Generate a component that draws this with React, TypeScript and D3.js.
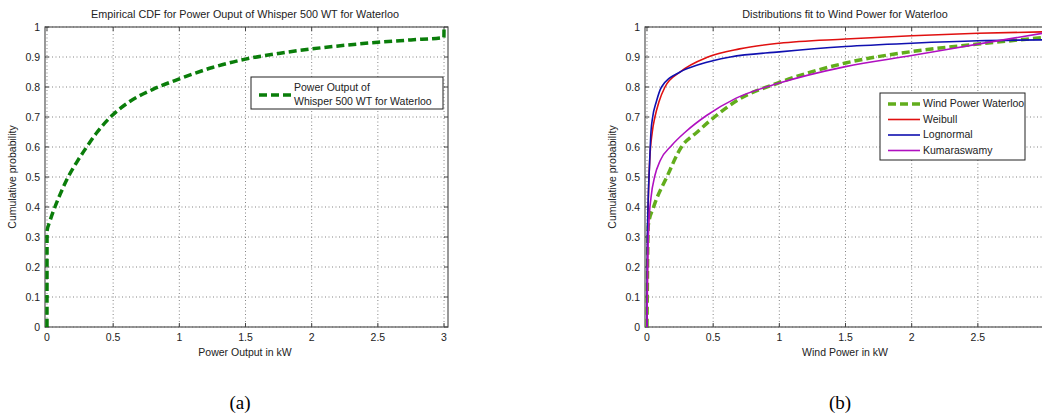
import * as d3 from "d3";
import React from "react";

// empirical cdf, panel (a)
const ecdfA: [number, number][] = [
  [0, 0], [0.0005, 0.32], [0.02, 0.35], [0.06, 0.4], [0.1, 0.443], [0.16, 0.5], [0.23, 0.553],
  [0.3, 0.6], [0.38, 0.65], [0.48, 0.7], [0.62, 0.75], [0.8, 0.792], [1.0, 0.827],
  [1.25, 0.865], [1.5, 0.893], [1.75, 0.912], [2.0, 0.927], [2.25, 0.939], [2.5, 0.949],
  [2.75, 0.957], [2.999, 0.965], [3.0, 1.0],
];

// panel (b)
const ecdfB: [number, number][] = [
  [0, 0], [0.01, 0.34], [0.05, 0.4], [0.15, 0.5], [0.26, 0.6], [0.38, 0.65], [0.51, 0.7],
  [0.68, 0.755], [1.0, 0.815], [1.5, 0.88], [2.0, 0.918], [2.5, 0.943], [3.0, 0.965],
];
const weibull: [number, number][] = [
  [0, 0], [0.005, 0.3], [0.02, 0.55], [0.04, 0.65], [0.06, 0.7], [0.09, 0.75], [0.136, 0.8],
  [0.25, 0.85], [0.46, 0.9], [0.7, 0.927], [1.0, 0.946], [1.5, 0.96], [2.0, 0.971],
  [2.5, 0.979], [3.0, 0.984],
];
const lognormal: [number, number][] = [
  [0, 0], [0.003, 0.3], [0.02, 0.55], [0.03, 0.65], [0.043, 0.7], [0.07, 0.75], [0.11, 0.8],
  [0.25, 0.85], [0.4, 0.876], [0.63, 0.9], [1.0, 0.917], [1.5, 0.935], [2.0, 0.946],
  [2.5, 0.954], [3.0, 0.957],
];
const kumaraswamy: [number, number][] = [
  [0, 0], [0.005, 0.2], [0.015, 0.35], [0.03, 0.43], [0.06, 0.505], [0.1, 0.555], [0.186, 0.605],
  [0.29, 0.65], [0.45, 0.705], [0.67, 0.762], [1.0, 0.813], [1.5, 0.868], [2.0, 0.905],
  [2.5, 0.943], [3.0, 0.98],
];

const xTicks = [0, 0.5, 1, 1.5, 2, 2.5, 3];
const yTicks = [0, 0.1, 0.2, 0.3, 0.4, 0.5, 0.6, 0.7, 0.8, 0.9, 1];

const font = "'Liberation Sans', Arial, sans-serif";

type Series = { name: string[]; data: [number, number][]; color: string; width: number; dash?: string };

function Panel({ dx, title, xLabel, caption, series, legend }: {
  dx: number; title: string; xLabel: string; caption: string; series: Series[];
  legend: { x: number; y: number; w: number; h: number; rowH: number };
}) {
  const x = d3.scaleLinear().domain([-0.015, 3.03]).range([45, 448]);
  const y = d3.scaleLinear().domain([0, 1]).range([327, 27]);
  const line = d3.line<[number, number]>()
    .x(d => x(d[0])).y(d => y(d[1]))
    .curve(d3.curveMonotoneX);
  const clipId = "clip" + dx;
  let row = 0;

  return (
    <g transform={`translate(${dx},0)`} fontFamily={font}>
      <defs>
        <clipPath id={clipId}><rect x={45} y={25} width={405} height={303} /></clipPath>
      </defs>
      <text x={245} y={18} textAnchor="middle" fontSize={10.8} fill="#222">{title}</text>
      {/* grid */}
      {xTicks.map(t => (
        <line key={"gx" + t} x1={x(t)} x2={x(t)} y1={27} y2={327} stroke="#666" strokeWidth={0.8} strokeDasharray="1,2.5" />
      ))}
      {yTicks.map(t => (
        <line key={"gy" + t} x1={45} x2={448} y1={y(t)} y2={y(t)} stroke="#666" strokeWidth={0.8} strokeDasharray="1,2.5" />
      ))}
      <rect x={45} y={27} width={403} height={300} fill="none" stroke="#555" strokeWidth={1.2} />
      {/* ticks */}
      {xTicks.map(t => (
        <g key={"tx" + t}>
          <line x1={x(t)} x2={x(t)} y1={327} y2={323} stroke="#444" />
          <line x1={x(t)} x2={x(t)} y1={27} y2={31} stroke="#444" />
          {dx + x(t) < 1036 && (
            <text x={x(t)} y={341} textAnchor="middle" fontSize={10.5} fill="#222">{t}</text>
          )}
        </g>
      ))}
      {yTicks.map(t => (
        <g key={"ty" + t}>
          <line x1={45} x2={49} y1={y(t)} y2={y(t)} stroke="#444" />
          <line x1={448} x2={444} y1={y(t)} y2={y(t)} stroke="#444" />
          <text x={40} y={y(t) + 3.5} textAnchor="end" fontSize={10.5} fill="#222">{t}</text>
        </g>
      ))}
      <text x={245} y={356} textAnchor="middle" fontSize={10.5} fill="#222">{xLabel}</text>
      <text transform="translate(16,177) rotate(-90)" textAnchor="middle" fontSize={10.5} fill="#222">Cumulative probability</text>
      <g clipPath={`url(#${clipId})`}>
        {series.map((s, i) => (
          <path key={i} d={line(s.data) || ""} fill="none" stroke={s.color} strokeWidth={s.width}
            strokeDasharray={s.dash} />
        ))}
      </g>
      {/* legend */}
      <rect x={legend.x} y={legend.y} width={legend.w} height={legend.h} fill="#fff" stroke="#222" strokeWidth={1} />
      {series.map((s, i) => {
        const cy = legend.y + 10 + row * legend.rowH + (s.name.length - 1) * legend.rowH / 2 + 1;
        const el = (
          <g key={"lg" + i}>
            <line x1={legend.x + 8} x2={legend.x + 40} y1={cy} y2={cy} stroke={s.color} strokeWidth={s.width} strokeDasharray={s.dash} />
            {s.name.map((n, j) => (
              <text key={j} x={legend.x + 43} y={legend.y + 14 + (row + j) * legend.rowH} fontSize={10.5} fill="#222">{n}</text>
            ))}
          </g>
        );
        row += s.name.length;
        return el;
      })}
      <text x={240} y={409} textAnchor="middle" fontSize={19} fontFamily="'Liberation Serif', 'Times New Roman', serif" fill="#000">{caption}</text>
    </g>
  );
}

export default function App() {
  const seriesA: Series[] = [
    { name: ["Power Output of", "Whisper 500 WT for Waterloo"], data: ecdfA, color: "#0a7d0a", width: 3.5, dash: "8,4" },
  ];
  const seriesB: Series[] = [
    { name: ["Wind Power Waterloo"], data: ecdfB, color: "#62ad1c", width: 3.5, dash: "8,4" },
    { name: ["Weibull"], data: weibull, color: "#e01010", width: 1.6 },
    { name: ["Lognormal"], data: lognormal, color: "#1010b0", width: 1.6 },
    { name: ["Kumaraswamy"], data: kumaraswamy, color: "#b010c0", width: 1.6 },
  ];
  return (
    <svg width={1042} height={420} style={{ position: "absolute", left: 0, top: 0, background: "#fff" }}>
      <Panel dx={0} title="Empirical CDF for Power Ouput of Whisper 500 WT for Waterloo" xLabel="Power Output in kW"
        caption="(a)" series={seriesA} legend={{ x: 251, y: 77, w: 192, h: 32, rowH: 14 }} />
      <Panel dx={600} title="Distributions fit to Wind Power for Waterloo" xLabel="Wind Power in kW"
        caption="(b)" series={seriesB} legend={{ x: 280, y: 93, w: 145, h: 67, rowH: 15.5 }} />
    </svg>
  );
}
